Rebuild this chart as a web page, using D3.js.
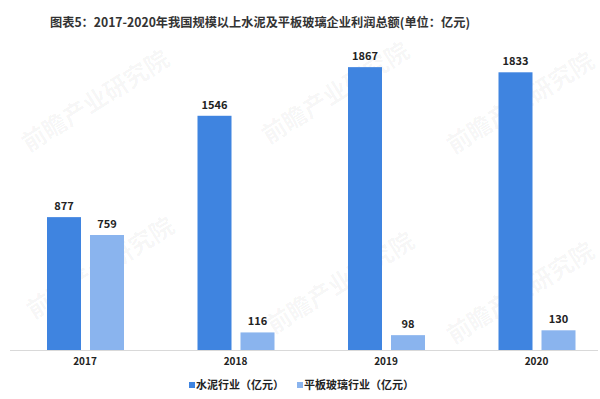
<!DOCTYPE html>
<html>
<head>
<meta charset="utf-8">
<script src="https://cdn.jsdelivr.net/npm/d3@7"></script>
<style>
  body { margin: 0; background: #fff; }
  svg { display: block; font-family: "Noto Sans CJK SC", "Noto Sans", sans-serif; }
</style>
</head>
<body>
<div id="chart"></div>
<script>
// data
var years = [ '2017', '2018', '2019', '2020' ];
var seriesNames = [ '水泥行业（亿元）', '平板玻璃行业（亿元）' ];
var cement = [ 877, 1546, 1867, 1833 ];
var glass = [ 759, 116, 98, 130 ];
var colors = [ '#3f84e0', '#8ab4ee' ];
var title = '图表5：2017-2020年我国规模以上水泥及平板玻璃企业利润总额(单位：亿元)';
var watermark = '前瞻产业研究院';

var width = 600;
var height = 399;

var svg = d3.select( '#chart' )
            .append( 'svg' )
            .attr( 'width', width )
            .attr( 'height', height );

// watermarks
var marks = [ [ 100, 108 ], [ 340, 100 ], [ 525, 110 ], [ 105, 275 ], [ 345, 290 ], [ 525, 300 ] ];
marks.forEach( function( m ) {
    svg.append( 'text' )
       .attr( 'transform', 'translate(' + m[ 0 ] + ',' + m[ 1 ] + ') rotate(-32)' )
       .attr( 'text-anchor', 'middle' )
       .attr( 'font-size', 24 )
       .attr( 'font-weight', 'bold' )
       .attr( 'fill', '#000' )
       .attr( 'fill-opacity', 0.045 )
       .text( watermark );
});

// title
svg.append( 'text' )
   .attr( 'x', 50 )
   .attr( 'y', 27 )
   .attr( 'font-size', 12.5 )
   .attr( 'font-weight', 'bold' )
   .attr( 'fill', '#333' )
   .attr( 'textLength', 420 )
   .attr( 'lengthAdjust', 'spacingAndGlyphs' )
   .text( title );

// scales
var x0 = d3.scaleBand()
           .domain( years )
           .range( [ 9.75, 611.75 ] );

var x1 = d3.scaleBand()
           .domain( [ 0, 1 ] )
           .range( [ 37.25, 114.25 ] )
           .paddingInner( 0.2093 );

var y = d3.scaleLinear()
          .domain( [ 0, 2000 ] )
          .range( [ 350, 47 ] );

var rows = years.map( function( yr, i ) {
    return { year: yr, values: [ cement[ i ], glass[ i ] ] };
});

// bars
var groups = svg.selectAll( 'g.group' )
                .data( rows )
                .enter()
                .append( 'g' )
                .attr( 'class', 'group' )
                .attr( 'transform', function( d ) { return 'translate(' + x0( d.year ) + ',0)'; } );

groups.selectAll( 'rect' )
      .data( function( d ) { return d.values; } )
      .enter()
      .append( 'rect' )
      .attr( 'x', function( d, i ) { return x1( i ); } )
      .attr( 'y', function( d ) { return y( d ); } )
      .attr( 'width', x1.bandwidth() )
      .attr( 'height', function( d ) { return y( 0 ) - y( d ); } )
      .attr( 'fill', function( d, i ) { return colors[ i ]; } );

groups.selectAll( 'text.value' )
      .data( function( d ) { return d.values; } )
      .enter()
      .append( 'text' )
      .attr( 'class', 'value' )
      .attr( 'x', function( d, i ) { return x1( i ) + x1.bandwidth() / 2; } )
      .attr( 'y', function( d ) { return y( d ) - 7; } )
      .attr( 'text-anchor', 'middle' )
      .attr( 'font-size', 11 )
      .attr( 'font-weight', 'bold' )
      .attr( 'fill', '#222' )
      .text( function( d ) { return d; } );

// axis
var axis = svg.append( 'g' )
              .attr( 'transform', 'translate(0,' + y( 0 ) + ')' )
              .call( d3.axisBottom( x0 ).tickSize( 0 ).tickPadding( 8 ) );
axis.select( '.domain' ).attr( 'd', 'M10,0.5H598' ).attr( 'stroke', '#d9d9d9' );
axis.selectAll( 'text' )
    .attr( 'font-size', 10 )
    .attr( 'font-weight', 'bold' )
    .attr( 'fill', '#222' )
    .attr( 'font-family', '"Noto Sans CJK SC", sans-serif' );

// legend
var legendX = [ 189, 297 ];
var legend = svg.selectAll( 'g.legend' )
                .data( seriesNames )
                .enter()
                .append( 'g' )
                .attr( 'class', 'legend' )
                .attr( 'transform', function( d, i ) { return 'translate(' + legendX[ i ] + ',385)'; } );

legend.append( 'rect' )
      .attr( 'x', 0 )
      .attr( 'y', -3 )
      .attr( 'width', 6 )
      .attr( 'height', 6 )
      .attr( 'fill', function( d, i ) { return colors[ i ]; } );

legend.append( 'text' )
      .attr( 'x', 7 )
      .attr( 'y', 4 )
      .attr( 'font-size', 11 )
      .attr( 'font-weight', 'bold' )
      .attr( 'fill', '#222' )
      .text( function( d ) { return d; } );
</script>
</body>
</html>
